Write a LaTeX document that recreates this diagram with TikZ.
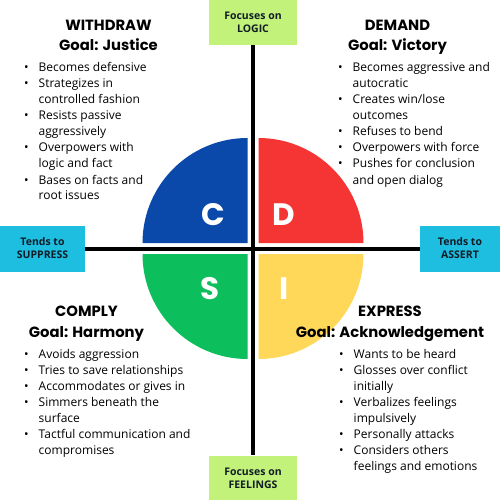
\documentclass[tikz,border=0pt]{standalone}
\usepackage{fontspec}
\setmainfont{Open Sans}
\newfontfamily\headfont{Poppins}
\usetikzlibrary{positioning, calc}

\definecolor{discC}{RGB}{10,72,170}
\definecolor{discD}{RGB}{245,52,52}
\definecolor{discS}{RGB}{12,190,92}
\definecolor{discI}{RGB}{255,216,90}
\definecolor{focusgreen}{RGB}{195,242,122}
\definecolor{tendblue}{RGB}{30,190,225}
\definecolor{boxtext}{RGB}{16,28,38}

\begin{document}
\begin{tikzpicture}[x=1pt, y=-1pt,
  focusbox/.style={fill=focusgreen, minimum width=88pt, minimum height=45pt, inner sep=0pt,
    align=center, text=boxtext, font=\bfseries\fontsize{10.5}{13}\selectfont},
  tendbox/.style={fill=tendblue, minimum height=46pt, inner sep=0pt,
    align=center, text=boxtext, font=\bfseries\fontsize{10.5}{13}\selectfont},
  axis/.style={line width=4pt, black},
  letter/.style={text=white, inner sep=0pt, font=\headfont\bfseries\fontsize{31}{31}\selectfont},
  heading/.style={anchor=base, inner sep=0pt, font=\headfont\bfseries\fontsize{14.8}{20.5}\selectfont},
  points/.style={anchor=base west, inner sep=0pt, font=\fontsize{12}{16}\selectfont}]

  \fill[white] (0,0) rectangle (500,500);
  \useasboundingbox (0,0) rectangle (500,500);

  % Quadrants
  \coordinate (centre) at (253,248.5);
  \foreach \col/\dx/\dy/\ang in {discC/-1/-1/180, discD/1/-1/270, discS/-1/1/90, discI/1/1/0}
    \fill[\col] ($(centre)+(\dx*5.5,\dy*5.5)$) -- ++(\ang:105)
      arc[start angle=\ang, delta angle=90, radius=105] -- cycle;

  \node[letter] (lc) at (213,215) {C};
  \node[letter] (ld) at (284,215) {D};
  \node[letter] (ls) at (210,289) {S};
  \node[letter] (li) at (284,289) {I};

  % Axes
  \node[focusbox] (logic) at (253,22.5) {Focuses on\\LOGIC};
  \node[focusbox] (feelings) at (253,478) {Focuses on\\FEELINGS};
  \node[tendbox, minimum width=85pt] (suppress) at (42.5,248.5) {Tends to\\SUPPRESS};
  \node[tendbox, minimum width=80pt] (assert) at (460,248.5) {Tends to\\ASSERT};

  \draw[axis] (logic) -- (feelings);
  \draw[axis] (suppress) -- (assert);

  % Styles
  \node[heading] (withdraw) at (108.5,30.5)
    {\begin{tabular}[t]{@{}c@{}}WITHDRAW\\Goal: Justice\end{tabular}};
  \node[heading] (demand) at (397.5,30.5)
    {\begin{tabular}[t]{@{}c@{}}DEMAND\\Goal: Victory\end{tabular}};
  \node[heading] (comply) at (86.5,316.5)
    {\begin{tabular}[t]{@{}c@{}}COMPLY\\Goal: Harmony\end{tabular}};
  \node[heading] (express) at (390,316.5)
    {\begin{tabular}[t]{@{}c@{}}EXPRESS\\Goal: Acknowledgement\end{tabular}};

  \node[points] (withdrawlist) at (24,72) {\begin{tabular}[t]{@{}l@{\hspace{10pt}}l@{}}
    \textbullet & Becomes defensive\\
    \textbullet & Strategizes in\\
                & controlled fashion\\
    \textbullet & Resists passive\\
                & aggressively\\
    \textbullet & Overpowers with\\
                & logic and fact\\
    \textbullet & Bases on facts and\\
                & root issues
  \end{tabular}};
  \node[points] (demandlist) at (338,72) {\begin{tabular}[t]{@{}l@{\hspace{10pt}}l@{}}
    \textbullet & Becomes aggressive and\\
                & autocratic\\
    \textbullet & Creates win/lose\\
                & outcomes\\
    \textbullet & Refuses to bend\\
    \textbullet & Overpowers with force\\
    \textbullet & Pushes for conclusion\\
                & and open dialog
  \end{tabular}};
  \node[points] (complylist) at (24,358) {\begin{tabular}[t]{@{}l@{\hspace{10pt}}l@{}}
    \textbullet & Avoids aggression\\
    \textbullet & Tries to save relationships\\
    \textbullet & Accommodates or gives in\\
    \textbullet & Simmers beneath the\\
                & surface\\
    \textbullet & Tactful communication and\\
                & compromises
  \end{tabular}};
  \node[points] (expresslist) at (339,358) {\begin{tabular}[t]{@{}l@{\hspace{10pt}}l@{}}
    \textbullet & Wants to be heard\\
    \textbullet & Glosses over conflict\\
                & initially\\
    \textbullet & Verbalizes feelings\\
                & impulsively\\
    \textbullet & Personally attacks\\
    \textbullet & Considers others\\
                & feelings and emotions
  \end{tabular}};
\end{tikzpicture}
\end{document}
